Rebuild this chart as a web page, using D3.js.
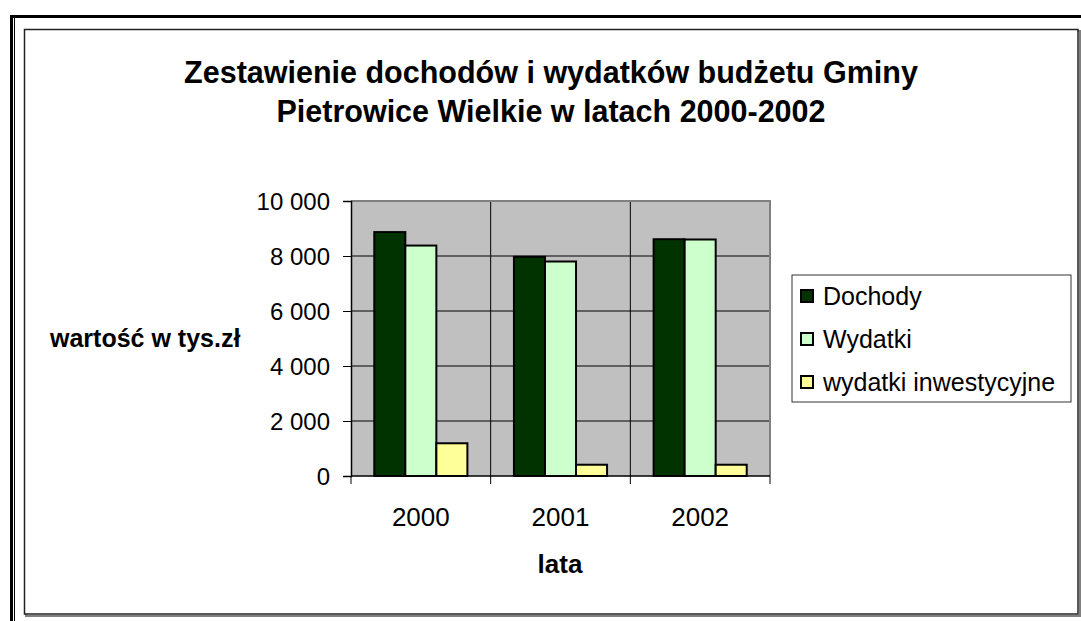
<!DOCTYPE html>
<html>
<head>
<meta charset="utf-8">
<script src="https://cdnjs.cloudflare.com/ajax/libs/d3/7.8.5/d3.min.js"></script>
<style>
  body { margin: 0; background: #fff; }
  svg { display: block; font-family: "Liberation Sans", Arial, sans-serif; }
</style>
</head>
<body>
<div id="chart"></div>
<script>
// data
var years = ["2000", "2001", "2002"];
var seriesNames = ["Dochody", "Wydatki", "wydatki inwestycyjne"];
var dochody = [8870, 7970, 8610];
var wydatki = [8380, 7800, 8600];
var inwestycyjne = [1190, 410, 410];
var yTicks = [0, 2000, 4000, 6000, 8000, 10000];
var colors = ["#003300", "#CCFFCC", "#FFFF99"];

var width = 1081, height = 621;
var plot = {left: 351, top: 201, right: 770, bottom: 476};

var svg = d3.select("#chart").append("svg")
            .attr("width", width)
            .attr("height", height);

// outer frame (double line on left, thick line on top)
svg.append("line").attr("x1", 10).attr("x2", width).attr("y1", 16.5).attr("y2", 16.5)
   .attr("stroke", "#000").attr("stroke-width", 3);
svg.append("line").attr("x1", 11.5).attr("x2", 11.5).attr("y1", 15).attr("y2", height)
   .attr("stroke", "#000").attr("stroke-width", 3);
svg.append("line").attr("x1", 14.5).attr("x2", 14.5).attr("y1", 18).attr("y2", height)
   .attr("stroke", "#000").attr("stroke-width", 1);

// chart area frame with shadow
svg.append("rect").attr("x", 26).attr("y", 31).attr("width", 1054).attr("height", 585)
   .attr("fill", "none").attr("stroke", "#808080").attr("stroke-width", 2);
svg.append("rect").attr("x", 24.5).attr("y", 29.5).attr("width", 1053.5).attr("height", 584.5)
   .attr("fill", "#fff").attr("stroke", "#222").attr("stroke-width", 1.5);

// title
var title = svg.append("text")
   .attr("text-anchor", "middle")
   .attr("font-size", "30.5px")
   .attr("font-weight", "bold");
title.append("tspan").attr("x", 551).attr("y", 83).text("Zestawienie dochodów i wydatków budżetu Gminy");
title.append("tspan").attr("x", 551).attr("y", 122).text("Pietrowice Wielkie w latach 2000-2002");

// scales
var x0 = d3.scaleBand().domain(years).range([plot.left, plot.right]).paddingInner(0).paddingOuter(0);
var y = d3.scaleLinear().domain([0, 10000]).range([plot.bottom, plot.top]);

// bar width: Excel gap width 150%
var barW = x0.bandwidth() / 4.5;
var gap = barW * 0.75;

// plot background
svg.append("rect")
   .attr("x", plot.left).attr("y", plot.top)
   .attr("width", plot.right - plot.left).attr("height", plot.bottom - plot.top)
   .attr("fill", "#C0C0C0");

// horizontal gridlines
svg.append("g").selectAll("line").data(yTicks.slice(1))
   .enter().append("line")
   .attr("x1", plot.left).attr("x2", plot.right)
   .attr("y1", function(d){ return y(d); }).attr("y2", function(d){ return y(d); })
   .attr("stroke", "#000").attr("stroke-width", 1);

// vertical gridlines at category boundaries
svg.append("g").selectAll("line").data(years.slice(1))
   .enter().append("line")
   .attr("x1", function(d){ return x0(d); }).attr("x2", function(d){ return x0(d); })
   .attr("y1", plot.top).attr("y2", plot.bottom)
   .attr("stroke", "#000").attr("stroke-width", 1);

// plot border (gray, top and right)
svg.append("path")
   .attr("d", "M" + plot.left + "," + plot.top + "H" + plot.right + "V" + plot.bottom)
   .attr("fill", "none").attr("stroke", "#808080").attr("stroke-width", 2);

// bars
var series = [dochody, wydatki, inwestycyjne];
series.forEach(function(vals, s) {
  svg.append("g").selectAll("rect").data(vals)
     .enter().append("rect")
     .attr("x", function(d, i){ return x0(years[i]) + gap + s * barW; })
     .attr("y", function(d){ return y(d); })
     .attr("width", barW)
     .attr("height", function(d){ return y(0) - y(d); })
     .attr("fill", colors[s])
     .attr("stroke", "#000")
     .attr("stroke-width", 2);
});

// y axis
var yAxis = d3.axisLeft(y).tickValues(yTicks).tickSize(8).tickPadding(13)
              .tickFormat(function(d){ return d3.format(",")(d).replace(/,/g, " "); });
var gy = svg.append("g").attr("transform", "translate(" + plot.left + ",0)").call(yAxis);
gy.select(".domain").attr("stroke", "#000").attr("stroke-width", 1.5);
gy.selectAll(".tick line").attr("stroke", "#000");
gy.selectAll("text").attr("font-size", "24px").attr("fill", "#000")
  .attr("font-family", "Liberation Sans, Arial, sans-serif").attr("dy", "0.35em");

// x axis with ticks at category boundaries
var gx = svg.append("g").attr("transform", "translate(0," + plot.bottom + ")");
gx.append("line").attr("x1", plot.left).attr("x2", plot.right)
  .attr("stroke", "#000").attr("stroke-width", 1.5);
gx.selectAll("line.tk").data(years.concat(["end"]))
  .enter().append("line").attr("class", "tk")
  .attr("x1", function(d, i){ return plot.left + i * x0.bandwidth(); })
  .attr("x2", function(d, i){ return plot.left + i * x0.bandwidth(); })
  .attr("y1", 0).attr("y2", 8)
  .attr("stroke", "#000");
gx.selectAll("text").data(years)
  .enter().append("text")
  .attr("x", function(d){ return x0(d) + x0.bandwidth() / 2; })
  .attr("y", 50)
  .attr("text-anchor", "middle")
  .attr("font-size", "26px")
  .text(function(d){ return d; });

// axis titles
svg.append("text").attr("x", 50).attr("y", 347)
   .attr("font-size", "25px").attr("font-weight", "bold")
   .text("wartość w tys.zł");
svg.append("text").attr("x", 560).attr("y", 573)
   .attr("text-anchor", "middle")
   .attr("font-size", "26px").attr("font-weight", "bold")
   .text("lata");

// legend
var legend = svg.append("g");
legend.append("rect").attr("x", 792).attr("y", 275).attr("width", 279).attr("height", 127)
      .attr("fill", "#fff").attr("stroke", "#333").attr("stroke-width", 1);
var rows = legend.selectAll("g.row").data(seriesNames)
      .enter().append("g").attr("class", "row")
      .attr("transform", function(d, i){ return "translate(801," + (296 + i * 43) + ")"; });
rows.append("rect").attr("x", 0).attr("y", -6).attr("width", 12).attr("height", 12)
    .attr("fill", function(d, i){ return colors[i]; })
    .attr("stroke", "#000").attr("stroke-width", 2);
rows.append("text").attr("x", 22).attr("y", 0).attr("dy", "0.35em")
    .attr("font-size", "25px")
    .text(function(d){ return d; });
</script>
</body>
</html>
